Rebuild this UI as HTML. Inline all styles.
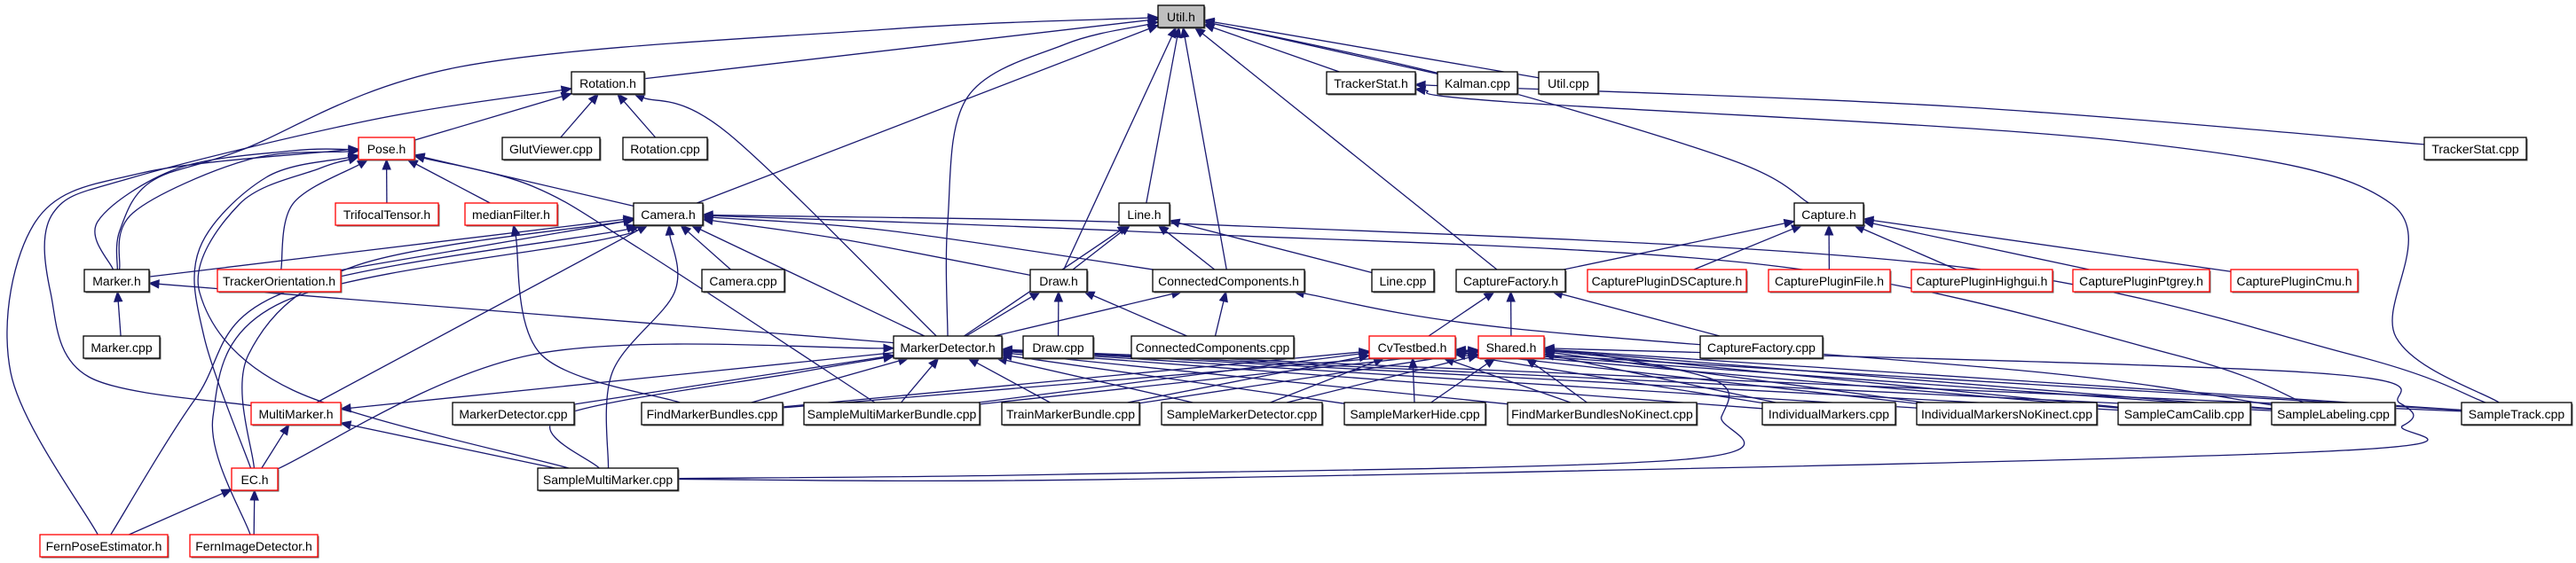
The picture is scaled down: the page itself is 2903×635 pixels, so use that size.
<!DOCTYPE html>
<html><head><meta charset="utf-8">
<style>
html,body{margin:0;padding:0;background:#fff;}
svg{display:block;}
text{font-family:"Liberation Sans",sans-serif;font-size:14px;fill:#000;}
</style></head>
<body>
<svg id="g" width="2903" height="635" viewBox="0 0 2903 635" xmlns="http://www.w3.org/2000/svg">
<g id="edges" fill="none" stroke="#191970" stroke-width="1.3"></g>
<g id="arrows" fill="#191970" stroke="#191970" stroke-width="1"></g>
<g id="nodes" stroke-width="1.3">
</g>
</svg>
<script>
var N={
util:[1305,1357,6,"Util.h","g"],
rot:[644,726,81,"Rotation.h"],
tsh:[1495,1595,81,"TrackerStat.h"],
kal:[1620,1710,81,"Kalman.cpp"],
utc:[1734,1801,81,"Util.cpp"],
pose:[404,467,155,"Pose.h","r"],
glut:[566,676,155,"GlutViewer.cpp"],
rotc:[702,797,155,"Rotation.cpp"],
tsc:[2732,2847,155,"TrackerStat.cpp"],
tri:[378,494,229,"TrifocalTensor.h","r"],
med:[524,628,229,"medianFilter.h","r"],
cam:[714,792,229,"Camera.h"],
line:[1261,1318,229,"Line.h"],
cap:[2022,2100,229,"Capture.h"],
mk:[95,168,304,"Marker.h"],
to:[245,384,304,"TrackerOrientation.h","r"],
camc:[791,884,304,"Camera.cpp"],
draw:[1161,1225,304,"Draw.h"],
cch:[1299,1470,304,"ConnectedComponents.h"],
linec:[1546,1616,304,"Line.cpp"],
cfh:[1641,1764,304,"CaptureFactory.h"],
ds:[1789,1968,304,"CapturePluginDSCapture.h","r"],
cpf:[1993,2130,304,"CapturePluginFile.h","r"],
cph:[2154,2313,304,"CapturePluginHighgui.h","r"],
cpp:[2336,2490,304,"CapturePluginPtgrey.h","r"],
cpc:[2514,2657,304,"CapturePluginCmu.h","r"],
mkc:[94,180,379,"Marker.cpp"],
md:[1007,1129,379,"MarkerDetector.h"],
drawc:[1153,1232,379,"Draw.cpp"],
ccc:[1275,1458,379,"ConnectedComponents.cpp"],
cvt:[1543,1640,379,"CvTestbed.h","r"],
sh:[1666,1740,379,"Shared.h","r"],
cfc:[1916,2054,379,"CaptureFactory.cpp"],
mm:[283,384,454,"MultiMarker.h","r"],
mdc:[510,647,454,"MarkerDetector.cpp"],
fmb:[723,882,454,"FindMarkerBundles.cpp"],
smmb:[906,1104,454,"SampleMultiMarkerBundle.cpp"],
tmb:[1129,1284,454,"TrainMarkerBundle.cpp"],
smd:[1309,1490,454,"SampleMarkerDetector.cpp"],
smh:[1515,1674,454,"SampleMarkerHide.cpp"],
fmbn:[1699,1912,454,"FindMarkerBundlesNoKinect.cpp"],
im:[1986,2136,454,"IndividualMarkers.cpp"],
imn:[2160,2363,454,"IndividualMarkersNoKinect.cpp"],
scc:[2387,2536,454,"SampleCamCalib.cpp"],
sl:[2560,2699,454,"SampleLabeling.cpp"],
st:[2774,2898,454,"SampleTrack.cpp"],
ec:[261,313,528,"EC.h","r"],
smm:[606,764,528,"SampleMultiMarker.cpp"],
fpe:[45,189,603,"FernPoseEstimator.h","r"],
fid:[214,358,603,"FernImageDetector.h","r"]
};
var H=25;
function C(k){var n=N[k];return [(n[0]+n[1])/2,n[2]+H/2];}
function hit(k,p){var n=N[k],c=C(k),dx=p[0]-c[0],dy=p[1]-c[1];var hw=(n[1]-n[0])/2,hh=H/2;
 var t=Math.min(dx?hw/Math.abs(dx):1e9,dy?hh/Math.abs(dy):1e9);return [c[0]+dx*t,c[1]+dy*t];}
var E=[
["rot","util"],["tsh","util"],["kal","util"],["utc","util"],["cam","util"],["line","util"],["draw","util"],["cch","util"],["cfh","util"],["cap","util",[[1950,180],[1650,90]]],
["md","util",[[1068,250],[1090,110],[1200,50]]],
["mk","util",[[135,260],[170,205],[270,170],[520,75],[1000,33]]],
["mm","rot",[[100,425],[57,330],[60,240],[150,200],[420,135]]],
["pose","rot"],["glut","rot"],["rotc","rot"],["md","rot",[[820,150]]],
["mk","pose",[[150,240],[280,180]]],["mk","pose",[[110,250],[200,190],[330,170]]],
["fpe","pose",[[12,420],[40,250],[160,195],[380,170]]],
["ec","pose",[[230,380],[225,280],[300,200]]],
["smm","pose",[[330,440],[225,330],[270,230],[360,190]]],
["smmb","pose",[[720,280],[600,210]]],
["tri","pose"],["med","pose"],["cam","pose"],["to","pose",[[330,230]]],
["fmb","med",[[610,400]]],
["mk","cam"],["to","cam"],["camc","cam"],["md","cam"],["draw","cam",[[950,270]]],["cch","cam",[[1000,260]]],
["fpe","cam",[[220,450],[320,330],[700,260]]],["fid","cam",[[240,470],[320,340],[680,270]]],["ec","cam",[[280,400],[400,300]]],["mm","cam"],
["smm","cam",[[690,420],[760,330]]],
["sl","cam",[[2450,400],[2000,300],[1300,262]]],["st","cam",[[2650,400],[2200,300],[1400,255]]],
["mkc","mk"],["md","mk"],
["draw","line"],["md","line"],["cch","line"],["linec","line"],
["md","draw"],["drawc","draw"],["ccc","draw"],
["md","cch"],["ccc","cch"],["sl","cch",[[2300,420],[1700,370]]],
["cfh","cap"],["ds","cap"],["cpf","cap"],["cph","cap"],["cpp","cap"],["cpc","cap"],
["cvt","cfh"],["sh","cfh"],["cfc","cfh"],
["st","tsh",[[2700,380],[2695,230],[2400,160],[1700,115]]],["tsc","tsh",[[2200,120]]],
["ec","mm"],["smm","mm"],["md","mm"],
["mdc","md"],["fmb","md"],["smmb","md"],["tmb","md"],["smd","md"],["smh","md"],["fmbn","md"],["im","md"],["imn","md"],["scc","md"],["sl","md"],["st","md"],["smm","md",[[630,470],[900,420]]],["ec","md",[[600,400]]],
["fid","ec"],["fpe","ec"],
["fmb","cvt"],["smmb","cvt"],["tmb","cvt"],["smd","cvt"],["smh","cvt"],["im","cvt"],["imn","cvt"],["scc","cvt"],["sl","cvt"],["st","cvt"],["fmbn","cvt"],
["fmb","sh"],["smmb","sh"],["tmb","sh"],["smd","sh"],["smh","sh"],["fmbn","sh"],["im","sh"],["imn","sh"],["scc","sh"],["sl","sh"],["st","sh"],
["smm","sh",[[1200,535],[1900,518],[1940,470],[1935,430],[1800,400]]],
["smm","sh",[[1300,540],[2600,510],[2708,480],[2705,455],[2600,420]]]
];
var eg=document.getElementById("edges"),ag=document.getElementById("arrows"),ng=document.getElementById("nodes");
var NS="http://www.w3.org/2000/svg";
function el(t,a,p){var e=document.createElementNS(NS,t);for(var k in a)e.setAttribute(k,a[k]);p.appendChild(e);return e;}
E.forEach(function(e){
 var w=e[2]||[];var first=w.length?w[0]:C(e[1]);var last=w.length?w[w.length-1]:C(e[0]);
 var s=hit(e[0],first),t=hit(e[1],last);
 var pts=[s].concat(w).concat([t]);
 var dx=t[0]-pts[pts.length-2][0],dy=t[1]-pts[pts.length-2][1],L=Math.sqrt(dx*dx+dy*dy)||1;dx/=L;dy/=L;
 var al=11,aw=4.5;var b=[t[0]-dx*al,t[1]-dy*al];
 pts[pts.length-1]=b;
 var d="M"+pts[0][0]+","+pts[0][1];
 if(pts.length==2){d+=" L"+b[0]+","+b[1];}
 else{for(var i=0;i<pts.length-1;i++){var p0=pts[Math.max(0,i-1)],p1=pts[i],p2=pts[i+1],p3=pts[Math.min(pts.length-1,i+2)];
  var c1=[p1[0]+(p2[0]-p0[0])/6,p1[1]+(p2[1]-p0[1])/6],c2=[p2[0]-(p3[0]-p1[0])/6,p2[1]-(p3[1]-p1[1])/6];
  d+=" C"+c1[0]+","+c1[1]+" "+c2[0]+","+c2[1]+" "+p2[0]+","+p2[1];}}
 el("path",{d:d},eg);
 el("polygon",{points:t[0]+","+t[1]+" "+(b[0]-dy*aw)+","+(b[1]+dx*aw)+" "+(b[0]+dy*aw)+","+(b[1]-dx*aw)},ag);
});
for(var k in N){var n=N[k];
 el("rect",{x:n[0]+1.5,y:n[2]+1.5,width:n[1]-n[0],height:H,fill:"#666",stroke:"none"},ng);
 el("rect",{x:n[0],y:n[2],width:n[1]-n[0],height:H,fill:n[4]=="g"?"#bfbfbf":"#fff",stroke:n[4]=="r"?"#ff0000":"#000"},ng);
}
</script>
<svg width="2903" height="635" viewBox="0 0 2903 635" xmlns="http://www.w3.org/2000/svg" style="position:absolute;left:0;top:0;">
<g text-anchor="middle">
<text x="1331" y="24">Util.h</text>
<text x="685" y="99">Rotation.h</text>
<text x="1545" y="99">TrackerStat.h</text>
<text x="1665" y="99">Kalman.cpp</text>
<text x="1767.5" y="99">Util.cpp</text>
<text x="435.5" y="173">Pose.h</text>
<text x="621" y="173">GlutViewer.cpp</text>
<text x="749.5" y="173">Rotation.cpp</text>
<text x="2789.5" y="173">TrackerStat.cpp</text>
<text x="436" y="247">TrifocalTensor.h</text>
<text x="576" y="247">medianFilter.h</text>
<text x="753" y="247">Camera.h</text>
<text x="1289.5" y="247">Line.h</text>
<text x="2061" y="247">Capture.h</text>
<text x="131.5" y="322">Marker.h</text>
<text x="314.5" y="322">TrackerOrientation.h</text>
<text x="837.5" y="322">Camera.cpp</text>
<text x="1193" y="322">Draw.h</text>
<text x="1384.5" y="322">ConnectedComponents.h</text>
<text x="1581" y="322">Line.cpp</text>
<text x="1702.5" y="322">CaptureFactory.h</text>
<text x="1878.5" y="322">CapturePluginDSCapture.h</text>
<text x="2061.5" y="322">CapturePluginFile.h</text>
<text x="2233.5" y="322">CapturePluginHighgui.h</text>
<text x="2413" y="322">CapturePluginPtgrey.h</text>
<text x="2585.5" y="322">CapturePluginCmu.h</text>
<text x="137" y="397">Marker.cpp</text>
<text x="1068" y="397">MarkerDetector.h</text>
<text x="1192.5" y="397">Draw.cpp</text>
<text x="1366.5" y="397">ConnectedComponents.cpp</text>
<text x="1591.5" y="397">CvTestbed.h</text>
<text x="1703" y="397">Shared.h</text>
<text x="1985" y="397">CaptureFactory.cpp</text>
<text x="333.5" y="472">MultiMarker.h</text>
<text x="578.5" y="472">MarkerDetector.cpp</text>
<text x="802.5" y="472">FindMarkerBundles.cpp</text>
<text x="1005" y="472">SampleMultiMarkerBundle.cpp</text>
<text x="1206.5" y="472">TrainMarkerBundle.cpp</text>
<text x="1399.5" y="472">SampleMarkerDetector.cpp</text>
<text x="1594.5" y="472">SampleMarkerHide.cpp</text>
<text x="1805.5" y="472">FindMarkerBundlesNoKinect.cpp</text>
<text x="2061" y="472">IndividualMarkers.cpp</text>
<text x="2261.5" y="472">IndividualMarkersNoKinect.cpp</text>
<text x="2461.5" y="472">SampleCamCalib.cpp</text>
<text x="2629.5" y="472">SampleLabeling.cpp</text>
<text x="2836" y="472">SampleTrack.cpp</text>
<text x="287" y="546">EC.h</text>
<text x="685" y="546">SampleMultiMarker.cpp</text>
<text x="117" y="621">FernPoseEstimator.h</text>
<text x="286" y="621">FernImageDetector.h</text>
</g>
</svg>
</body></html>
